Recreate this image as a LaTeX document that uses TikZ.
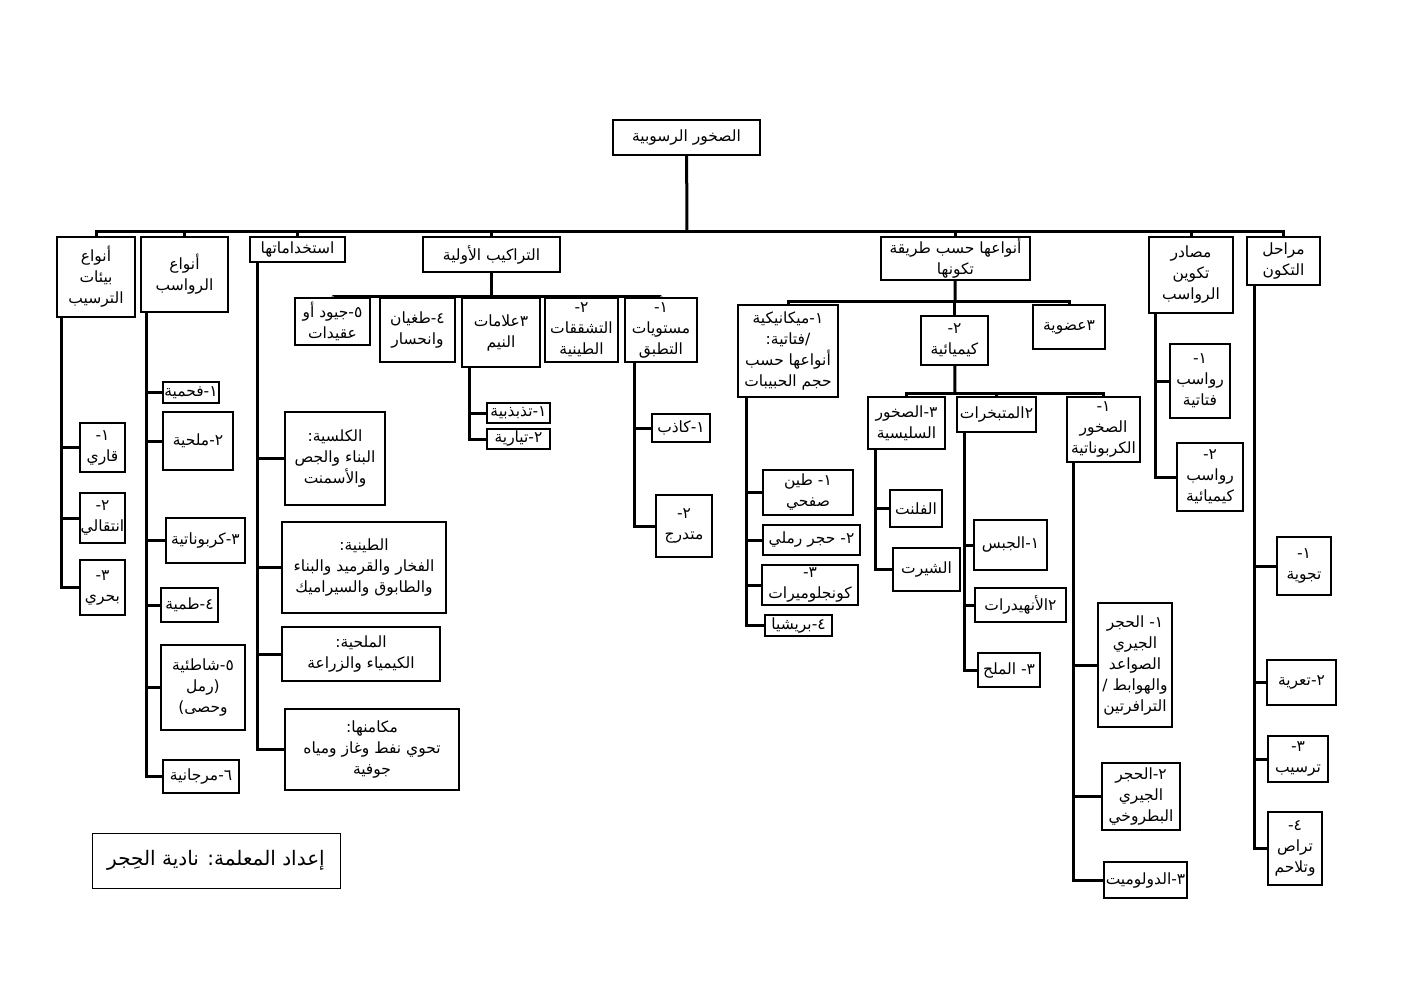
\documentclass[tikz,border=0pt]{standalone}
\usepackage{fontspec}
\newfontfamily\arabicfont[Script=Arabic]{DejaVu Sans}
\TeXXeTstate=1
\newcommand\rtlline[1]{\beginR #1\endR}
\begin{document}
\begin{tikzpicture}[x=1pt,y=-1pt,
  box/.style={draw,line width=2.4pt,align=center,inner sep=0.5pt,
    font=\arabicfont\fontsize{15.5}{21}\selectfont},
  sz/.style n args={2}{minimum width=#1pt,minimum height=#2pt},
  link/.style={line width=3pt}]
\useasboundingbox (0,0) rectangle (1403,992);
% root and first level
\node[box,sz={147}{35}] (root) at (686.5,137.5) {\rtlline{الصخور الرسوبية}};
\coordinate (tophub) at (687,232);
\node[box,sz={78}{80}] (envs) at (96,277) {\rtlline{أنواع}\\\rtlline{بيئات}\\\rtlline{الترسيب}};
\node[box,sz={87}{75}] (deps) at (184.5,274.5) {\rtlline{أنواع}\\\rtlline{الرواسب}};
\node[box,sz={95}{25}] (uses) at (297.5,249.5) {\rtlline{استخداماتها}};
\node[box,sz={137}{35}] (struct) at (491.5,254.5) {\rtlline{التراكيب الأولية}};
\node[box,sz={149}{43}] (kinds) at (955.5,258.5) {\rtlline{أنواعها حسب طريقة}\\\rtlline{تكونها}};
\node[box,sz={84}{76}] (src) at (1191,275) {\rtlline{مصادر}\\\rtlline{تكوين}\\\rtlline{الرواسب}};
\node[box,sz={73}{48}] (stg) at (1283.5,261) {\rtlline{مراحل}\\\rtlline{التكون}};
\draw[link] (root) -- (tophub);
\foreach \c in {envs,deps,uses,struct,kinds,src,stg}
  \draw[link] (tophub) -| (\c.north);

% environments
\node[box,sz={45}{49}] (env1) at (102.5,447.5) {\rtlline{١-}\\\rtlline{قاري}};
\node[box,sz={45}{50}] (env2) at (102.5,518) {\rtlline{٢-}\\\rtlline{انتقالي}};
\node[box,sz={45}{55}] (env3) at (102.5,587.5) {\rtlline{٣-}\\\rtlline{بحري}};
\foreach \c in {env1,env2,env3}
  \draw[link] ([xshift=6pt]envs.south west) |- (\c.west);

% deposits
\node[box,sz={56}{21}] (dep1) at (191,392.5) {\rtlline{١-فحمية}};
\node[box,sz={70}{58}] (dep2) at (198,441) {\rtlline{٢-ملحية}};
\node[box,sz={79}{45}] (dep3) at (205.5,540.5) {\rtlline{٣-كربوناتية}};
\node[box,sz={57}{34}] (dep4) at (189.5,605) {\rtlline{٤-طمية}};
\node[box,sz={84}{85}] (dep5) at (203,687.5) {\rtlline{٥-شاطئية}\\\rtlline{(رمل}\\\rtlline{وحصى)}};
\node[box,sz={76}{33}] (dep6) at (201,776.5) {\rtlline{٦-مرجانية}};
\foreach \c in {dep1,dep2,dep3,dep4,dep5,dep6}
  \draw[link] ([xshift=7pt]deps.south west) |- (\c.west);

% uses
\node[box,sz={100}{93}] (use1) at (335,458.5) {\rtlline{الكلسية:}\\\rtlline{البناء والجص}\\\rtlline{والأسمنت}};
\node[box,sz={164}{91}] (use2) at (364,567.5) {\rtlline{الطينية:}\\\rtlline{الفخار والقرميد والبناء}\\\rtlline{والطابوق والسيراميك}};
\node[box,sz={158}{54}] (use3) at (361,654) {\rtlline{الملحية:}\\\rtlline{الكيمياء والزراعة}};
\node[box,sz={174}{81}] (use4) at (372,749.5) {\rtlline{مكامنها:}\\\rtlline{تحوي نفط وغاز ومياه}\\\rtlline{جوفية}};
\foreach \c in {use1,use2,use3,use4}
  \draw[link] ([xshift=9pt]uses.south west) |- (\c.west);

% primary structures
\coordinate (structhub) at (491.5,297);
\node[box,sz={75}{47}] (st5) at (332.5,321.5) {\rtlline{٥-جيود أو}\\\rtlline{عقيدات}};
\node[box,sz={75}{64}] (st4) at (417.5,330) {\rtlline{٤-طغيان}\\\rtlline{وانحسار}};
\node[box,sz={78}{69}] (st3) at (501,332.5) {\rtlline{٣علامات}\\\rtlline{النيم}};
\node[box,sz={73}{64}] (st2) at (581.5,330) {\rtlline{٢-}\\\rtlline{التشققات}\\\rtlline{الطينية}};
\node[box,sz={72}{64}] (st1) at (661,330) {\rtlline{١-}\\\rtlline{مستويات}\\\rtlline{التطبق}};
\draw[link] (struct) -- (structhub);
\foreach \c in {st5,st4,st3,st2,st1}
  \draw[link] (structhub) -| (\c.north);
\node[box,sz={63}{20}] (rip1) at (518.5,413) {\rtlline{١-تذبذبية}};
\node[box,sz={63}{20}] (rip2) at (518.5,439) {\rtlline{٢-تيارية}};
\foreach \c in {rip1,rip2}
  \draw[link] ([xshift=9pt]st3.south west) |- (\c.west);
\node[box,sz={58}{28}] (bed1) at (681,428) {\rtlline{١-كاذب}};
\node[box,sz={56}{62}] (bed2) at (684,526) {\rtlline{٢-}\\\rtlline{متدرج}};
\foreach \c in {bed1,bed2}
  \draw[link] ([xshift=11pt]st1.south west) |- (\c.west);

% kinds by formation
\coordinate (kindhub) at (955,302);
\node[box,sz={100}{92}] (mech) at (788,351) {\rtlline{١-ميكانيكية}\\\rtlline{/فتاتية:}\\\rtlline{أنواعها حسب}\\\rtlline{حجم الحبيبات}};
\node[box,sz={67}{49}] (chem) at (954.5,340.5) {\rtlline{٢-}\\\rtlline{كيميائية}};
\node[box,sz={72}{44}] (org) at (1069,327) {\rtlline{٣عضوية}};
\draw[link] (kinds) -- (kindhub);
\foreach \c in {mech,chem,org}
  \draw[link] (kindhub) -| (\c.north);
\node[box,sz={90}{45}] (mch1) at (808,492.5) {\rtlline{١- طين}\\\rtlline{صفحي}};
\node[box,sz={97}{30}] (mch2) at (811.5,540) {\rtlline{٢- حجر رملي}};
\node[box,sz={96}{40}] (mch3) at (810,585) {\rtlline{٣-}\\\rtlline{كونجلوميرات}};
\node[box,sz={67}{21}] (mch4) at (798.5,625.5) {\rtlline{٤-بريشيا}};
\foreach \c in {mch1,mch2,mch3,mch4}
  \draw[link] ([xshift=10pt]mech.south west) |- (\c.west);

% chemical
\coordinate (chemhub) at (955,393);
\node[box,sz={77}{52}] (sil) at (906.5,423) {\rtlline{٣-الصخور}\\\rtlline{السليسية}};
\node[box,sz={79}{35}] (evp) at (996.5,414.5) {\rtlline{٢المتبخرات}};
\node[box,sz={73}{65}] (carb) at (1103.5,429.5) {\rtlline{١-}\\\rtlline{الصخور}\\\rtlline{الكربوناتية}};
\draw[link] (chem) -- (chemhub);
\foreach \c in {sil,evp,carb}
  \draw[link] (chemhub) -| (\c.north);
\node[box,sz={52}{37}] (sil1) at (916,508.5) {\rtlline{الفلنت}};
\node[box,sz={67}{43}] (sil2) at (926.5,569.5) {\rtlline{الشيرت}};
\foreach \c in {sil1,sil2}
  \draw[link] ([xshift=9pt]sil.south west) |- (\c.west);
\node[box,sz={73}{50}] (evp1) at (1010.5,545) {\rtlline{١-الجبس}};
\node[box,sz={91}{34}] (evp2) at (1020.5,605) {\rtlline{٢الأنهيدرات}};
\node[box,sz={62}{34}] (evp3) at (1009,670) {\rtlline{٣- الملح}};
\foreach \c in {evp1,evp2,evp3}
  \draw[link] ([xshift=9pt]evp.south west) |- (\c.west);
\node[box,sz={74}{124}] (carb1) at (1135,665) {\rtlline{١- الحجر}\\\rtlline{الجيري}\\\rtlline{الصواعد}\\\rtlline{والهوابط /}\\\rtlline{الترافرتين}};
\node[box,sz={78}{67}] (carb2) at (1141,796.5) {\rtlline{٢-الحجر}\\\rtlline{الجيري}\\\rtlline{البطروخي}};
\node[box,sz={83}{36}] (carb3) at (1145.5,880) {\rtlline{٣-الدولوميت}};
\foreach \c in {carb1,carb2,carb3}
  \draw[link] ([xshift=8pt]carb.south west) |- (\c.west);

% sources and stages
\node[box,sz={60}{74}] (src1) at (1200,381) {\rtlline{١-}\\\rtlline{رواسب}\\\rtlline{فتاتية}};
\node[box,sz={66}{68}] (src2) at (1210,477) {\rtlline{٢-}\\\rtlline{رواسب}\\\rtlline{كيميائية}};
\foreach \c in {src1,src2}
  \draw[link] ([xshift=8pt]src.south west) |- (\c.west);
\node[box,sz={54}{58}] (stg1) at (1304,566) {\rtlline{١-}\\\rtlline{تجوية}};
\node[box,sz={69}{45}] (stg2) at (1301.5,682.5) {\rtlline{٢-تعرية}};
\node[box,sz={60}{46}] (stg3) at (1298,759) {\rtlline{٣-}\\\rtlline{ترسيب}};
\node[box,sz={54}{73}] (stg4) at (1295,848.5) {\rtlline{٤-}\\\rtlline{تراص}\\\rtlline{وتلاحم}};
\foreach \c in {stg1,stg2,stg3,stg4}
  \draw[link] ([xshift=9pt]stg.south west) |- (\c.west);

% author
\node[draw,line width=0.8pt,minimum width=248pt,minimum height=55pt,
  font=\arabicfont\fontsize{20}{24}\selectfont] (author) at (216,860.5)
  {\rtlline{إعداد المعلمة: نادية الحِجر}};
\end{tikzpicture}
\end{document}
